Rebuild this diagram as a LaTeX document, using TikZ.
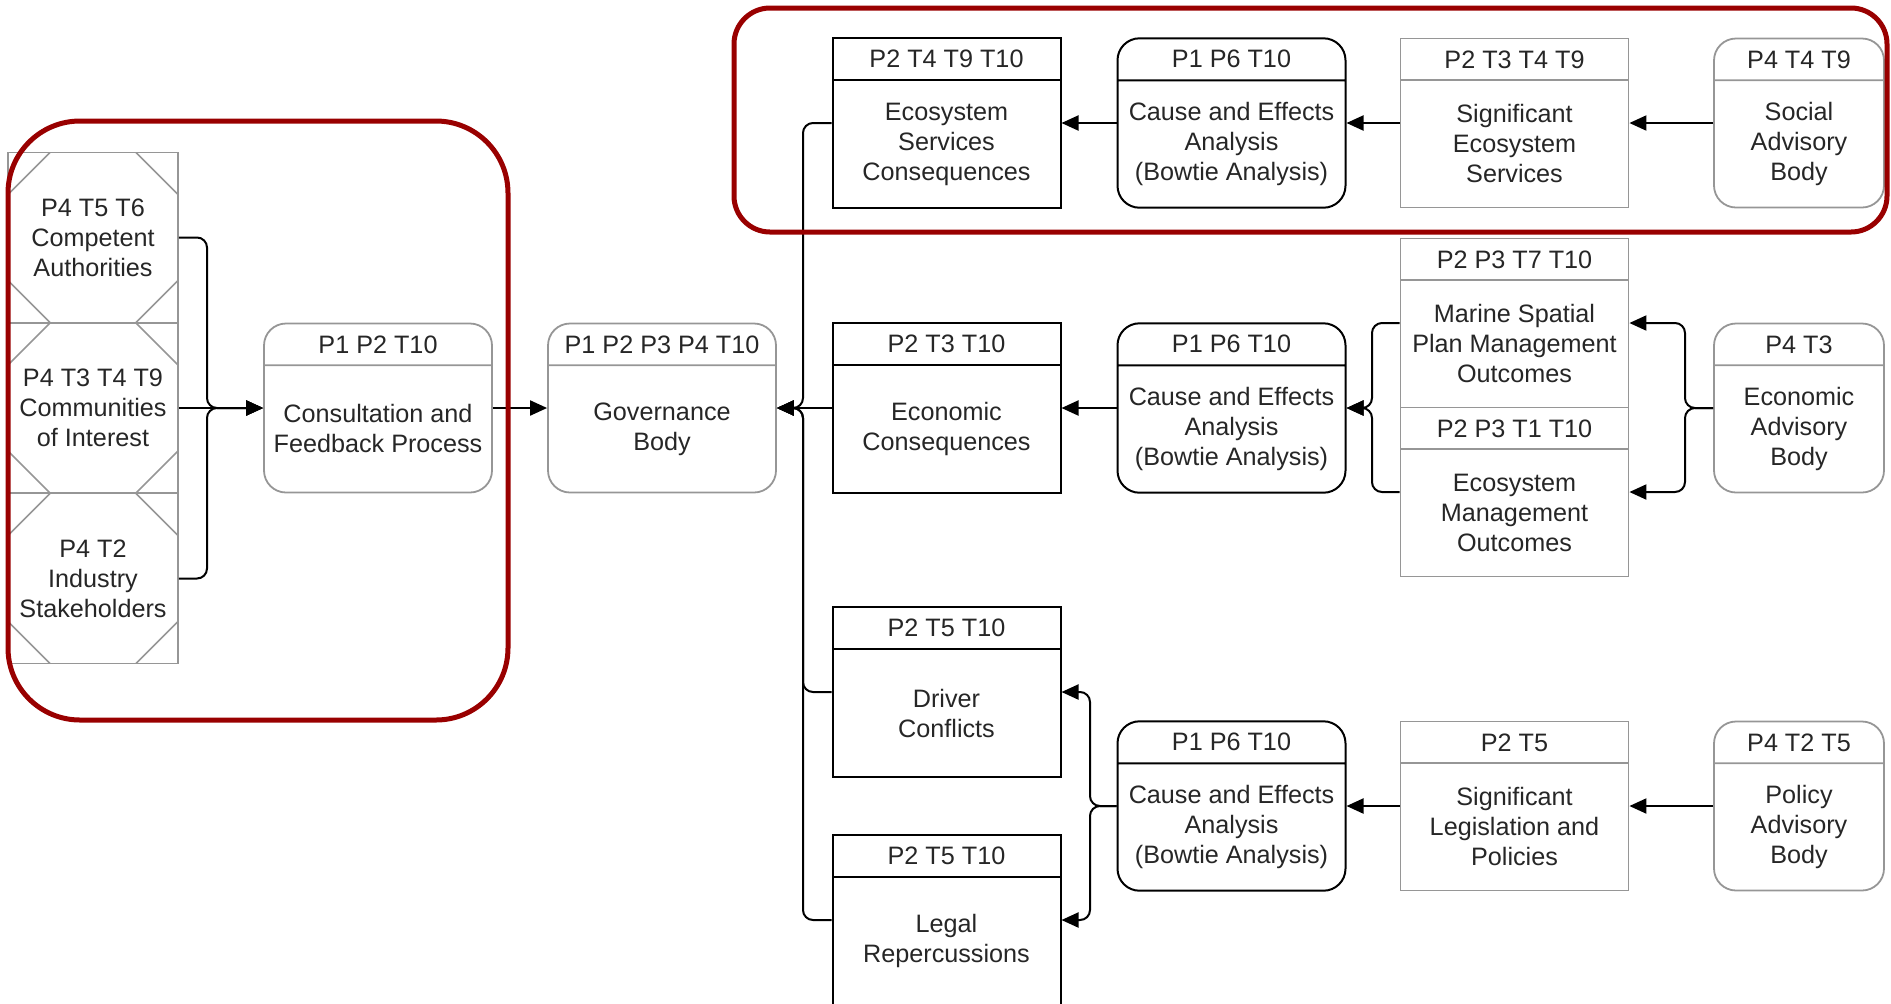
\documentclass[tikz,border=0pt]{standalone}
\usepackage{fontspec}
\setmainfont{Liberation Sans}
\usetikzlibrary{shapes.multipart,arrows.meta}

\definecolor{boxgray}{RGB}{150,150,150}
\definecolor{ringred}{RGB}{153,0,0}

\newcommand{\boxhead}[2][114pt]{\parbox[c][20pt][c]{#1}{\centering #2}}
\newcommand{\boxbody}[2][114pt]{\parbox[c][62.7pt][c]{#1}{\centering #2}}

\tikzstyle{stage} = [rectangle split, rectangle split parts=2, draw=black, line width=1pt, inner sep=0pt, font=\fontsize{12.6}{15}\selectfont, text=black!85]
\tikzstyle{input} = [stage, draw=boxgray, line width=0.9pt]
\tikzstyle{soft} = [rounded corners=11pt]
\tikzstyle{party} = [draw=boxgray, line width=0.9pt, minimum width=85pt, minimum height=85pt, inner sep=0pt, align=center, font=\fontsize{12.6}{15}\selectfont, text=black!85,
    path picture={\draw[boxgray, line width=0.8pt]
        ([xshift=21pt]path picture bounding box.north west) -- ([yshift=-21pt]path picture bounding box.north west)
        ([xshift=-21pt]path picture bounding box.north east) -- ([yshift=-21pt]path picture bounding box.north east)
        ([xshift=21pt]path picture bounding box.south west) -- ([yshift=21pt]path picture bounding box.south west)
        ([xshift=-21pt]path picture bounding box.south east) -- ([yshift=21pt]path picture bounding box.south east);}]
\tikzstyle{flow} = [draw=black, line width=1pt, rounded corners=5pt, -{Triangle[length=8.5pt,width=7.5pt]}]
\tikzstyle{ring} = [draw=ringred, line width=2.5pt]

\begin{document}
\begin{tikzpicture}[x=0.5pt, y=-0.5pt]
    \useasboundingbox (0,0) rectangle (1891,1003);

    \coordinate (comp) at (93, 237.5);
    \coordinate (comm) at (93, 408);
    \coordinate (ind) at (93, 578.5);
    \coordinate (consult) at (378, 408);
    \coordinate (gov) at (662, 408);
    \coordinate (ecoserv) at (946.5, 123);
    \coordinate (cea1) at (1231.5, 123);
    \coordinate (sigeco) at (1514.5, 123);
    \coordinate (social) at (1799, 123);
    \coordinate (econ) at (946.5, 408);
    \coordinate (cea2) at (1231.5, 408);
    \coordinate (marine) at (1514.5, 323);
    \coordinate (econadv) at (1799, 408);
    \coordinate (driver) at (946.5, 692);
    \coordinate (legal) at (946.5, 920);
    \coordinate (cea3) at (1231.5, 806);
    \coordinate (siglaw) at (1514.5, 806);
    \coordinate (policy) at (1799, 806);

    \coordinate (cjoin) at (207, 408);
    \coordinate (gjoin) at (803, 408);
    \coordinate (mjoin) at (1372, 408);
    \coordinate (ajoin) at (1685, 408);
    \coordinate (bjoin) at (1090, 806);

    \node [style=party] (comp) at (comp) {P4 T5 T6\\Competent\\Authorities};
    \node [style=party] (comm) at (comm) {P4 T3 T4 T9\\Communities\\of Interest};
    \node [style=party] (ind) at (ind) {P4 T2\\Industry\\Stakeholders};

    \node [style=input, style=soft] (consult) at (consult) {\boxhead{P1 P2 T10}\nodepart{two}\boxbody{Consultation and\\Feedback Process}};
    \node [style=input, style=soft] (gov) at (gov) {\boxhead{P1 P2 P3 P4 T10}\nodepart{two}\boxbody{Governance\\Body}};

    \node [style=stage] (ecoserv) at (ecoserv) {\boxhead{P2 T4 T9 T10}\nodepart{two}\boxbody{Ecosystem\\Services\\Consequences}};
    \node [style=stage, style=soft] (cea1) at (cea1) {\boxhead{P1 P6 T10}\nodepart{two}\boxbody{Cause and Effects\\Analysis\\(Bowtie Analysis)}};
    \node [style=input] (sigeco) at (sigeco) {\boxhead{P2 T3 T4 T9}\nodepart{two}\boxbody{Significant\\Ecosystem\\Services}};
    \node [style=input, style=soft] (social) at (social) {\boxhead[85pt]{P4 T4 T9}\nodepart{two}\boxbody[85pt]{Social\\Advisory\\Body}};

    \node [style=stage] (econ) at (econ) {\boxhead{P2 T3 T10}\nodepart{two}\boxbody{Economic\\Consequences}};
    \node [style=stage, style=soft] (cea2) at (cea2) {\boxhead{P1 P6 T10}\nodepart{two}\boxbody{Cause and Effects\\Analysis\\(Bowtie Analysis)}};
    \node [style=input] (marine) at (marine) {\boxhead{P2 P3 T7 T10}\nodepart{two}\boxbody{Marine Spatial\\Plan Management\\Outcomes}};
    \node [style=input, anchor=north] (ecomgmt) at ([yshift=0.9pt]marine.south) {\boxhead{P2 P3 T1 T10}\nodepart{two}\boxbody{Ecosystem\\Management\\Outcomes}};
    \node [style=input, style=soft] (econadv) at (econadv) {\boxhead[85pt]{P4 T3}\nodepart{two}\boxbody[85pt]{Economic\\Advisory\\Body}};

    \node [style=stage] (driver) at (driver) {\boxhead{P2 T5 T10}\nodepart{two}\boxbody{Driver\\Conflicts}};
    \node [style=stage] (legal) at (legal) {\boxhead{P2 T5 T10}\nodepart{two}\boxbody{Legal\\Repercussions}};
    \node [style=stage, style=soft] (cea3) at (cea3) {\boxhead{P1 P6 T10}\nodepart{two}\boxbody{Cause and Effects\\Analysis\\(Bowtie Analysis)}};
    \node [style=input] (siglaw) at (siglaw) {\boxhead{P2 T5}\nodepart{two}\boxbody{Significant\\Legislation and\\Policies}};
    \node [style=input, style=soft] (policy) at (policy) {\boxhead[85pt]{P4 T2 T5}\nodepart{two}\boxbody[85pt]{Policy\\Advisory\\Body}};

    \draw [style=flow] (comp.east) -| (cjoin) -- (consult.west);
    \draw [style=flow] (comm.east) -- (consult.west);
    \draw [style=flow] (ind.east) -| (cjoin) -- (consult.west);
    \draw [style=flow] (consult.east) -- (gov.west);

    \draw [style=flow] (ecoserv.west) -| (gjoin) -- (gov.east);
    \draw [style=flow] (econ.west) -- (gov.east);
    \draw [style=flow] (driver.west) -| (gjoin) -- (gov.east);
    \draw [style=flow] (legal.west) -| (gjoin) -- (gov.east);

    \draw [style=flow] (cea1.west) -- (ecoserv.east);
    \draw [style=flow] (sigeco.west) -- (cea1.east);
    \draw [style=flow] (social.west) -- (sigeco.east);

    \draw [style=flow] (cea2.west) -- (econ.east);
    \draw [style=flow] (marine.west) -| (mjoin) -- (cea2.east);
    \draw [style=flow] (ecomgmt.west) -| (mjoin) -- (cea2.east);
    \draw [style=flow] (econadv.west) -- (ajoin) |- (marine.east);
    \draw [style=flow] (econadv.west) -- (ajoin) |- (ecomgmt.east);

    \draw [style=flow] (cea3.west) -- (bjoin) |- (driver.east);
    \draw [style=flow] (cea3.west) -- (bjoin) |- (legal.east);
    \draw [style=flow] (siglaw.west) -- (cea3.east);
    \draw [style=flow] (policy.west) -- (siglaw.east);

    \draw [style=ring, rounded corners=36pt] (8,121) rectangle (508,720);
    \draw [style=ring, rounded corners=18pt] (734,8) rectangle (1887,232);
\end{tikzpicture}
\end{document}
